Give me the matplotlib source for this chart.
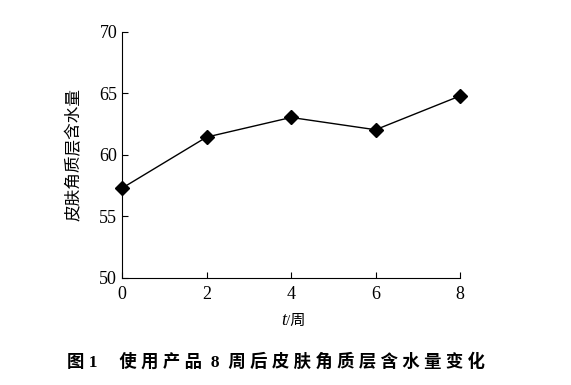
import matplotlib
matplotlib.use("Agg")
import matplotlib.pyplot as plt

plt.rcParams['font.family'] = ['Liberation Serif', 'Noto Sans CJK SC', 'DejaVu Sans']

weeks = [0, 2, 4, 6, 8]
moisture = [57.3, 61.45, 63.05, 62.05, 64.8]
xticks = [0, 2, 4, 6, 8]
yticks = [50, 55, 60, 65, 70]

fig = plt.figure(figsize=(5.71, 3.85), dpi=100)
ax = fig.add_axes([0.2137, 0.278, 0.592, 0.639])

ax.plot(weeks, moisture, "k-", linewidth=1.0, marker="D", markersize=7, markerfacecolor="k", clip_on=False)
ax.set_xlim(0, 8)
ax.set_ylim(50, 70)
ax.set_xticks(xticks)
ax.set_yticks(yticks)
ax.spines['top'].set_visible(False)
ax.spines['right'].set_visible(False)
ax.tick_params(direction='in', length=4, width=0.8, labelsize=13, colors='k')
ax.tick_params(axis='x', pad=6)

# x label: italic t + /周
ax.text(0.485, -0.19, 't', transform=ax.transAxes, ha='right', va='baseline', fontsize=13, style='italic')
ax.text(0.485, -0.19, '/周', transform=ax.transAxes, ha='left', va='baseline', fontsize=11)
ax.set_ylabel('皮肤角质层含水量', fontsize=12, labelpad=12)

fig.text(0.483, 0.06, '图 1     使 用 产 品  8  周 后 皮 肤 角 质 层 含 水 量 变 化', ha='center', va='center',
         fontsize=12.5, fontweight='bold')

fig.savefig('out.png', dpi=100)
